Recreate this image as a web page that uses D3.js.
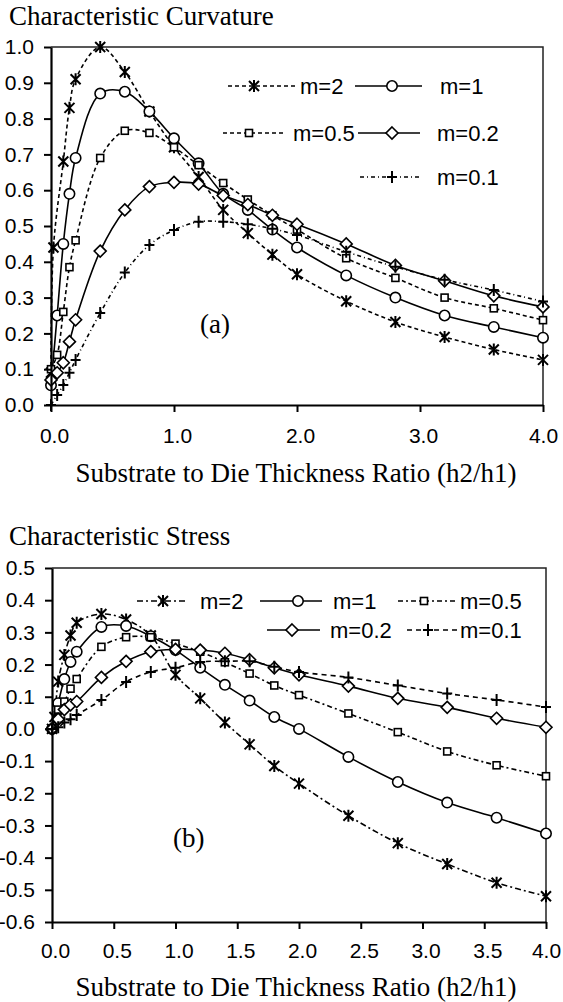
<!DOCTYPE html>
<html><head><meta charset="utf-8">
<script src="https://cdn.jsdelivr.net/npm/d3@7"></script>
<style>body{margin:0;background:#fff}svg{display:block}</style>
</head><body>
<svg id="c" width="563" height="1002"></svg>
<script>
// ---------- DATA ----------
// Chart (a) Characteristic Curvature
const xCurv = [0, 0.05, 0.1, 0.15, 0.2, 0.4, 0.6, 0.8, 1.0, 1.2, 1.4, 1.6, 1.8, 2.0, 2.4, 2.8, 3.2, 3.6, 4.0];
const xCurvM2 = [0, 0.02, 0.1, 0.15, 0.2, 0.4, 0.6, 0.8, 1.0, 1.2, 1.4, 1.6, 1.8, 2.0, 2.4, 2.8, 3.2, 3.6, 4.0];
const curvM2  = [0.09, 0.44, 0.68, 0.83, 0.91, 1.0, 0.93, 0.82, 0.72, 0.637, 0.545, 0.48, 0.42, 0.365, 0.29, 0.232, 0.19, 0.155, 0.126];
const curvM1  = [0.055, 0.25, 0.45, 0.59, 0.69, 0.87, 0.875, 0.82, 0.745, 0.675, 0.59, 0.545, 0.49, 0.44, 0.362, 0.30, 0.25, 0.218, 0.188];
const curvM05 = [0.1, 0.14, 0.26, 0.385, 0.46, 0.69, 0.766, 0.76, 0.72, 0.67, 0.62, 0.574, 0.53, 0.49, 0.41, 0.355, 0.30, 0.27, 0.237];
const curvM02 = [0.07, 0.09, 0.118, 0.177, 0.238, 0.43, 0.545, 0.61, 0.622, 0.617, 0.585, 0.56, 0.53, 0.505, 0.45, 0.39, 0.347, 0.305, 0.274];
const curvM01 = [0.0, 0.028, 0.056, 0.09, 0.126, 0.257, 0.37, 0.447, 0.489, 0.512, 0.512, 0.505, 0.492, 0.475, 0.428, 0.386, 0.35, 0.321, 0.289];
const curvXTicks = [0, 1, 2, 3, 4];
const curvXTickLabels = ["0.0", "1.0", "2.0", "3.0", "4.0"];
const curvYTicks = [0, 0.1, 0.2, 0.3, 0.4, 0.5, 0.6, 0.7, 0.8, 0.9, 1.0];
const curvYTickLabels = ["0.0", "0.1", "0.2", "0.3", "0.4", "0.5", "0.6", "0.7", "0.8", "0.9", "1.0"];

// Chart (b) Characteristic Stress
const xStress = [0, 0.05, 0.1, 0.15, 0.2, 0.4, 0.6, 0.8, 1.0, 1.2, 1.4, 1.6, 1.8, 2.0, 2.4, 2.8, 3.2, 3.6, 4.0];
const xStressM2 = [0, 0.02, 0.05, 0.1, 0.15, 0.2, 0.4, 0.6, 0.8, 1.0, 1.2, 1.4, 1.6, 1.8, 2.0, 2.4, 2.8, 3.2, 3.6, 4.0];
const stressM2  = [0.0, 0.037, 0.147, 0.23, 0.29, 0.33, 0.357, 0.34, 0.29, 0.168, 0.095, 0.02, -0.048, -0.115, -0.17, -0.27, -0.355, -0.42, -0.478, -0.52];
const stressM1  = [0.0, 0.08, 0.155, 0.208, 0.24, 0.317, 0.32, 0.288, 0.245, 0.19, 0.137, 0.088, 0.037, 0.0, -0.087, -0.165, -0.229, -0.276, -0.325];
const stressM05 = [0.0, 0.06, 0.085, 0.125, 0.155, 0.255, 0.285, 0.285, 0.265, 0.24, 0.207, 0.172, 0.135, 0.105, 0.048, -0.01, -0.07, -0.113, -0.147];
const stressM02 = [0.0, 0.03, 0.06, 0.075, 0.085, 0.16, 0.21, 0.24, 0.247, 0.245, 0.235, 0.215, 0.19, 0.168, 0.133, 0.095, 0.067, 0.033, 0.005];
const stressM01 = [0.0, 0.005, 0.02, 0.03, 0.043, 0.09, 0.146, 0.177, 0.19, 0.208, 0.21, 0.21, 0.193, 0.177, 0.16, 0.135, 0.11, 0.09, 0.068];
const stressXTicks = [0, 0.5, 1, 1.5, 2, 2.5, 3, 3.5, 4];
const stressXTickLabels = ["0.0", "0.5", "1.0", "1.5", "2.0", "2.5", "3.0", "3.5", "4.0"];
const stressYTicks = [0.5, 0.4, 0.3, 0.2, 0.1, 0, -0.1, -0.2, -0.3, -0.4, -0.5, -0.6];
const stressYTickLabels = ["0.5", "0.4", "0.3", "0.2", "0.1", "0.0", "-0.1", "-0.2", "-0.3", "-0.4", "-0.5", "-0.6"];

const seriesNames = ["m=2", "m=1", "m=0.5", "m=0.2", "m=0.1"];
const titleA = "Characteristic Curvature";
const titleB = "Characteristic Stress";
const xTitle = "Substrate to Die Thickness Ratio (h2/h1)";

// ---------- DRAWING ----------
const svg = d3.select("#c");
const SANS = '"Liberation Sans", Arial, Helvetica, sans-serif';
const SERIF = '"Liberation Serif", "Times New Roman", serif';

function drawMarker(g, type, cx, cy) {
  const s = g.append("g").attr("transform", `translate(${cx},${cy})`)
    .attr("stroke", "#000").attr("stroke-width", 1.6).attr("fill", "#fff");
  if (type === "star") {
    const r = 5;
    s.append("path").attr("d", `M${-r},${-r}L${r},${r}M${-r},${r}L${r},${-r}M0,${-r-1}L0,${r+1}`).attr("stroke-width", 2);
  } else if (type === "circle") {
    s.append("circle").attr("r", 5.2);
  } else if (type === "square") {
    s.append("rect").attr("x", -3.5).attr("y", -3.5).attr("width", 7).attr("height", 7);
  } else if (type === "diamond") {
    s.append("path").attr("d", "M0,-6L6,0L0,6L-6,0Z");
  } else if (type === "plus") {
    s.append("path").attr("d", "M-5,0L5,0M0,-6L0,6").attr("stroke-width", 2);
  }
}

function drawChart(cfg) {
  const x = d3.scaleLinear().domain([0, 4]).range(cfg.xRange);
  const y = d3.scaleLinear().domain(cfg.yDomain).range(cfg.yRange);
  const g = svg.append("g");

  g.append("text").attr("x", 9).attr("y", cfg.titleY).text(cfg.title)
    .attr("font-family", SERIF).attr("font-size", 27).attr("fill", "#000");

  g.append("path")
    .attr("d", `M${x(0)},${y(cfg.yDomain[1])}H${x(4)}V${y(cfg.yDomain[0])}`)
    .attr("fill", "none").attr("stroke", "#222").attr("stroke-width", 1.5);

  const line = d3.line().x(d => x(d[0])).y(d => y(d[1])).curve(d3.curveCatmullRom.alpha(0.5));
  cfg.series.forEach(s => {
    const pts = s.xs.map((v, i) => [v, s.ys[i]]);
    g.append("path").attr("d", line(pts)).attr("fill", "none")
      .attr("stroke", "#000").attr("stroke-width", 1.6)
      .attr("stroke-dasharray", s.dash || null);
  });
  cfg.series.forEach(s => {
    s.xs.forEach((v, i) => drawMarker(g, s.marker, x(v), y(s.ys[i])));
  });

  const xa = g.append("g").attr("transform", `translate(0,${y(cfg.yDomain[0])})`)
    .call(d3.axisBottom(x).tickValues(cfg.xTicks).tickFormat((d, i) => cfg.xTickLabels[i])
      .tickSize(7).tickSizeOuter(0).tickPadding(cfg.xPad));
  const ya = g.append("g").attr("transform", `translate(${x(0)},0)`)
    .call(d3.axisLeft(y).tickValues(cfg.yTicks).tickFormat((d, i) => cfg.yTickLabels[i])
      .tickSize(7).tickSizeOuter(0).tickPadding(10));
  [xa, ya].forEach(a => {
    a.select(".domain").attr("stroke", "#000").attr("stroke-width", 2.2);
    a.selectAll(".tick line").attr("stroke", "#000").attr("stroke-width", 2);
    a.selectAll(".tick text").attr("font-family", SANS).attr("font-size", 21).attr("fill", "#000");
  });
  xa.selectAll(".tick text").attr("dx", (d, i, n) => i === n.length - 1 ? 0 : 3);

  g.append("text").attr("x", cfg.xTitleX).attr("y", cfg.xTitleY)
    .attr("text-anchor", "middle").text(xTitle)
    .attr("font-family", SERIF).attr("font-size", 27).attr("fill", "#000");

  g.append("text").attr("x", cfg.panel.x).attr("y", cfg.panel.y).text(cfg.panel.text)
    .attr("font-family", SERIF).attr("font-size", 27).attr("fill", "#000");

  cfg.legend.forEach(l => {
    const s = cfg.series[l.i];
    g.append("line").attr("x1", l.x1).attr("x2", l.x2).attr("y1", l.y).attr("y2", l.y)
      .attr("stroke", "#000").attr("stroke-width", 1.6).attr("stroke-dasharray", s.dash || null);
    drawMarker(g, s.marker, l.mx, l.y);
    g.append("text").attr("x", l.tx).attr("y", l.y + 8).text(seriesNames[l.i])
      .attr("font-family", SANS).attr("font-size", 22).attr("fill", "#000");
  });
}

drawChart({
  title: titleA, titleY: 25,
  xRange: [51, 543], yDomain: [0, 1], yRange: [405, 47],
  xTicks: curvXTicks, xTickLabels: curvXTickLabels,
  yTicks: curvYTicks, yTickLabels: curvYTickLabels,
  xPad: 16, xTitleX: 296, xTitleY: 482,
  panel: {x: 200, y: 333, text: "(a)"},
  series: [
    {xs: xCurvM2, ys: curvM2, marker: "star", dash: "4,3"},
    {xs: xCurv, ys: curvM1, marker: "circle", dash: null},
    {xs: xCurv, ys: curvM05, marker: "square", dash: "4,3"},
    {xs: xCurv, ys: curvM02, marker: "diamond", dash: null},
    {xs: xCurv, ys: curvM01, marker: "plus", dash: "4,3,1,3"}
  ],
  legend: [
    {i: 0, x1: 228, x2: 297, mx: 254, y: 86, tx: 300},
    {i: 1, x1: 355, x2: 422, mx: 392, y: 86, tx: 440},
    {i: 2, x1: 223, x2: 283, mx: 249, y: 133, tx: 293},
    {i: 3, x1: 358, x2: 420, mx: 392, y: 133, tx: 437},
    {i: 4, x1: 360, x2: 420, mx: 392, y: 177, tx: 437}
  ]
});

drawChart({
  title: titleB, titleY: 545,
  xRange: [52, 546], yDomain: [-0.6, 0.5], yRange: [922, 568],
  xTicks: stressXTicks, xTickLabels: stressXTickLabels,
  yTicks: stressYTicks, yTickLabels: stressYTickLabels,
  xPad: 14, xTitleX: 296, xTitleY: 996,
  panel: {x: 173, y: 847, text: "(b)"},
  series: [
    {xs: xStressM2, ys: stressM2, marker: "star", dash: "6,3,2,3"},
    {xs: xStress, ys: stressM1, marker: "circle", dash: null},
    {xs: xStress, ys: stressM05, marker: "square", dash: "5,3,2,3"},
    {xs: xStress, ys: stressM02, marker: "diamond", dash: null},
    {xs: xStress, ys: stressM01, marker: "plus", dash: "5,4"}
  ],
  legend: [
    {i: 0, x1: 137, x2: 188, mx: 163, y: 601, tx: 200},
    {i: 1, x1: 260, x2: 322, mx: 298, y: 601, tx: 333},
    {i: 2, x1: 398, x2: 457, mx: 424, y: 601, tx: 460},
    {i: 3, x1: 267, x2: 320, mx: 292, y: 630, tx: 330},
    {i: 4, x1: 407, x2: 457, mx: 428, y: 630, tx: 460}
  ]
});
</script>
</body></html>
